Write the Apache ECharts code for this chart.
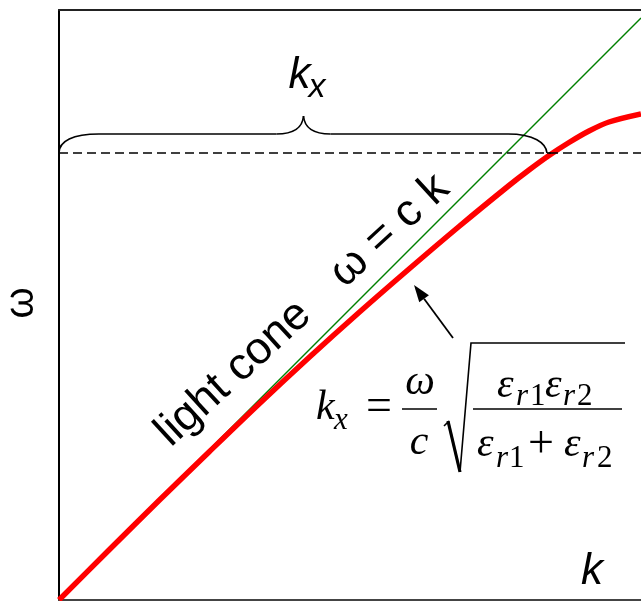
<!DOCTYPE html>
<html>
<head>
<meta charset="utf-8">
<script src="https://cdn.jsdelivr.net/npm/echarts@6/dist/echarts.min.js"></script>
<style>
  html, body { margin: 0; padding: 0; background: #fff; }
  #c { width: 641px; height: 601px; }
</style>
</head>
<body>
<div id="c"></div>
<script>
// Axis ranges (units: 1 unit of k and of omega share the same screen length)
const kRange = [0, 5.82];
const omegaRange = [0, 5.90];

// Light line  omega = c k  (c = 1 in these units)
const lightK = [0, 5.82];
const lightOmega = [0, 5.82];

// Surface plasmon dispersion curve
const spK     = [0, 0.5, 1.0, 1.5, 2.0, 2.5, 3.0, 3.5, 4.0, 4.5, 4.7, 4.9, 5.1, 5.3, 5.5, 5.82];
const spOmega = [0, 0.50, 0.995, 1.48, 1.96, 2.425, 2.875, 3.31, 3.735, 4.145, 4.30, 4.445, 4.575, 4.69, 4.78, 4.86];

// Horizontal cut (dashed) and the k-range spanned by the brace
const cutoffOmega = 4.47;
const braceK = [0, 4.89];

// Labels
const xName = 'k';
const yName = 'ω';
const coneLabel = 'light cone';
const coneEq = 'ω = c k';
const braceLabel = ['k', 'x'];

const SANS = '"Liberation Sans", Arial, sans-serif';
const SERIF = '"Liberation Serif", "Times New Roman", serif';
const MID = 0.28; // distance from canvas 'middle' to alphabetic baseline, in em

const chart = echarts.init(document.getElementById('c'), null, { renderer: 'canvas' });

function pairs(xs, ys) { return xs.map((x, i) => [x, ys[i]]); }

const hiddenAxisParts = {
  axisTick: { show: false },
  axisLabel: { show: false },
  splitLine: { show: false }
};

chart.setOption({
  animation: false,
  backgroundColor: '#fff',
  grid: { left: 59, right: 0, top: 10, bottom: 1, containLabel: false },
  xAxis: [
    Object.assign({
      type: 'value', min: kRange[0], max: kRange[1],
      axisLine: { show: true, onZero: false, lineStyle: { color: '#444', width: 2 } }
    }, hiddenAxisParts),
    Object.assign({
      type: 'value', position: 'top', min: kRange[0], max: kRange[1],
      axisLine: { show: true, onZero: false, lineStyle: { color: '#222', width: 2 } }
    }, hiddenAxisParts)
  ],
  yAxis: Object.assign({
    type: 'value', min: omegaRange[0], max: omegaRange[1],
    axisLine: { show: true, onZero: false, lineStyle: { color: '#000', width: 2 } }
  }, hiddenAxisParts),
  series: [
    {
      name: 'light line',
      type: 'line',
      data: pairs(lightK, lightOmega),
      showSymbol: false,
      silent: true,
      lineStyle: { color: '#008000', width: 1.4 },
      markLine: {
        silent: true,
        symbol: 'none',
        label: { show: false },
        lineStyle: { color: '#000', width: 1.6, type: [9, 5] },
        data: [{ yAxis: cutoffOmega }]
      },
      z: 2
    },
    {
      name: 'surface plasmon',
      type: 'line',
      data: pairs(spK, spOmega),
      smooth: 0.3,
      showSymbol: false,
      silent: true,
      lineStyle: { color: '#ff0000', width: 5.5 },
      z: 3
    }
  ]
});

// ---- annotations ----
function px(k, w) { return chart.convertToPixel({ xAxisIndex: 0, yAxisIndex: 0 }, [k, w]); }

// text placed by its alphabetic baseline at (x, base)
function txt(s, x, base, size, family, opts) {
  opts = opts || {};
  const font = (opts.italic ? 'italic ' : '') + size + 'px ' + family;
  return {
    type: 'text',
    x: x, y: base,
    rotation: opts.rotation || 0,
    silent: true,
    z: 10,
    style: {
      text: s, x: 0, y: -MID * size,
      font: font, fill: '#000',
      align: opts.align || 'left', textAlign: opts.align || 'left',
      verticalAlign: 'middle', textVerticalAlign: 'middle'
    }
  };
}
function seg(x1, y1, x2, y2, w) {
  return { type: 'line', silent: true, z: 10, shape: { x1, y1, x2, y2 },
           style: { stroke: '#000', lineWidth: w || 1.5, lineCap: 'butt' } };
}
function curve(x1, y1, c1x, c1y, c2x, c2y, x2, y2, w) {
  return { type: 'bezierCurve', silent: true, z: 10,
           shape: { x1, y1, cpx1: c1x, cpy1: c1y, cpx2: c2x, cpy2: c2y, x2, y2 },
           style: { stroke: '#000', lineWidth: w || 1.6, fill: null } };
}

const els = [];

// brace above the dashed cut, spanning braceK
const bL = px(braceK[0], cutoffOmega);
const bR = px(braceK[1], cutoffOmega);
const yb = bL[1];
const yh = yb - 19;
const yp = yb - 37;
const xm = (bL[0] + bR[0]) / 2;
els.push(curve(bL[0], yb, bL[0], yb - 12, bL[0] + 14, yh, bL[0] + 40, yh));
els.push(seg(bL[0] + 40, yh, xm - 27, yh, 1.6));
els.push(curve(xm - 27, yh, xm - 9, yh, xm - 1, yh - 6, xm, yp));
els.push(curve(xm, yp, xm + 1, yh - 6, xm + 9, yh, xm + 27, yh));
els.push(seg(xm + 27, yh, bR[0] - 40, yh, 1.6));
els.push(curve(bR[0] - 40, yh, bR[0] - 14, yh, bR[0] - 2, yb - 10, bR[0] - 1, yb));
els.push(seg(bR[0] - 1, yb, bR[0] + 3, yb, 1.6));

// brace label k_x
els.push(txt(braceLabel[0], xm - 15, 88, 44, SANS, { italic: true }));
els.push(txt(braceLabel[1], xm + 5, 97, 34, SANS, { italic: true }));

// light-cone label along the light line
const rot = 42.5 * Math.PI / 180;
const dir = [Math.cos(rot), -Math.sin(rot)];
const s0 = [171, 448];
els.push(txt(coneLabel, s0[0], s0[1], 45, SANS, { rotation: rot }));
els.push(txt(coneEq, s0[0] + 236 * dir[0], s0[1] + 236 * dir[1], 45, SANS, { rotation: rot }));

// axis names
els.push({
  type: 'text', x: 22, y: 303, rotation: Math.PI / 2, silent: true, z: 10,
  style: { text: yName, font: '40px ' + SANS, fill: '#000',
           align: 'center', textAlign: 'center', verticalAlign: 'middle', textVerticalAlign: 'middle' }
});
els.push(txt(xName, 581, 584, 44, SANS, { italic: true }));

// arrow pointing at the dispersion curve
const tip = [414, 285], tail = [453, 338];
const dx = tip[0] - tail[0], dy = tip[1] - tail[1];
const len = Math.hypot(dx, dy);
const ux = dx / len, uy = dy / len;
const hl = 17, hw = 6;
const base = [tip[0] - hl * ux, tip[1] - hl * uy];
els.push(seg(tail[0], tail[1], base[0], base[1], 1.8));
els.push({
  type: 'polygon', silent: true, z: 10,
  shape: { points: [tip, [base[0] - hw * uy, base[1] + hw * ux], [base[0] + hw * uy, base[1] - hw * ux]] },
  style: { fill: '#000' }
});

// formula  k_x = (ω/c) sqrt( εr1 εr2 / (εr1 + εr2) )
const F = 42, S = 31, OP = 46;
els.push(txt('k', 316, 420, F, SERIF, { italic: true }));
els.push(txt('x', 334, 430, S, SERIF, { italic: true }));
els.push(txt('=', 366, 421, OP, SERIF));
els.push(txt('ω', 420, 395, F, SERIF, { italic: true, align: 'center' }));
els.push(seg(402, 409, 437, 409, 1.6));
els.push(txt('c', 419, 455, F, SERIF, { italic: true, align: 'center' }));
// radical sign
els.push(seg(444, 426, 449, 421, 1.6));
els.push(seg(448, 421, 460, 472, 3.2));
els.push({ type: 'polyline', silent: true, z: 10,
  shape: { points: [[460, 472], [471, 343], [625, 343]] },
  style: { stroke: '#000', lineWidth: 1.6, fill: null } });
// numerator
els.push(txt('ε', 497, 398, F, SERIF, { italic: true }));
els.push(txt('r', 516, 406, S, SERIF, { italic: true }));
els.push(txt('1', 530, 406, S, SERIF));
els.push(txt('ε', 545, 398, F, SERIF, { italic: true }));
els.push(txt('r', 563, 406, S, SERIF, { italic: true }));
els.push(txt('2', 577, 406, S, SERIF));
els.push(seg(473, 409, 622, 409, 1.6));
// denominator
els.push(txt('ε', 477, 457, F, SERIF, { italic: true }));
els.push(txt('r', 496, 468, S, SERIF, { italic: true }));
els.push(txt('1', 509, 468, S, SERIF));
els.push(txt('+', 528, 458, OP, SERIF));
els.push(txt('ε', 564, 457, F, SERIF, { italic: true }));
els.push(txt('r', 582, 468, S, SERIF, { italic: true }));
els.push(txt('2', 597, 468, S, SERIF));

chart.setOption({ graphic: { elements: els } });
</script>
</body>
</html>
